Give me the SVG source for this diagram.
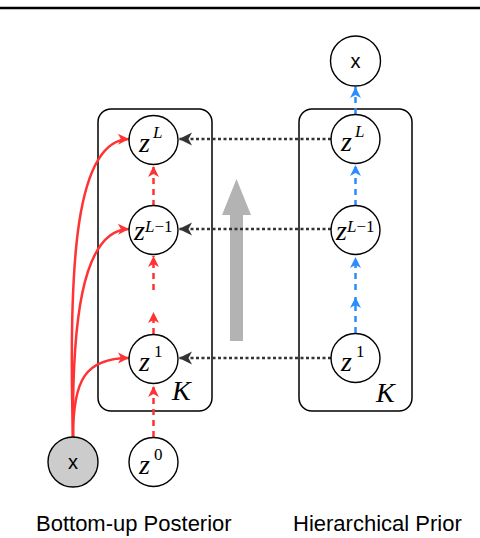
<svg xmlns="http://www.w3.org/2000/svg" width="480" height="538" viewBox="0 0 480 538">
<style>
.box{fill:none;stroke:#000;stroke-width:1.5}
.nd{fill:#fff;stroke:#000;stroke-width:1.4}
.obs{fill:#cccccc;stroke:#000;stroke-width:1.4}
.zi{font-family:"Liberation Serif",serif;font-style:italic;font-size:28px;fill:#000}
.sup{font-family:"Liberation Serif",serif;font-style:italic;font-size:17px;fill:#000}
.supr{font-family:"Liberation Serif",serif;font-size:17px;fill:#000}
.kk{font-family:"Liberation Serif",serif;font-style:italic;font-size:28px;fill:#000}
.sx{font-family:"Liberation Sans",Arial,sans-serif;font-size:20px;fill:#000;text-anchor:middle}
.lbl{font-family:"Liberation Sans",Arial,sans-serif;font-size:22px;fill:#000}
.red{fill:none;stroke:#ff3333;stroke-width:2.5}
.redd{fill:none;stroke:#ff3333;stroke-width:2.5;stroke-dasharray:6 5}
.blue{fill:none;stroke:#2a8cff;stroke-width:2.5;stroke-dasharray:6 5}
.dot{fill:none;stroke:#333;stroke-width:2.5;stroke-dasharray:3 2.5}
</style>
<defs>
<marker id="ar" markerUnits="userSpaceOnUse" markerWidth="14" markerHeight="14" viewBox="-12 -7 14 14" refX="0" refY="0" orient="auto"><path d="M0,0 L-11,-5.5 L-8,0 L-11,5.5 Z" fill="#ff3333"/></marker>
<marker id="ab" markerUnits="userSpaceOnUse" markerWidth="14" markerHeight="14" viewBox="-12 -7 14 14" refX="0" refY="0" orient="auto"><path d="M0,0 L-11,-5.5 L-8,0 L-11,5.5 Z" fill="#2a8cff"/></marker>
<marker id="ak" markerUnits="userSpaceOnUse" markerWidth="16" markerHeight="16" viewBox="-15 -8 16 16" refX="0" refY="0" orient="auto"><path d="M0,0 L-13,-6.5 L-9.5,0 L-13,6.5 Z" fill="#333"/></marker>
</defs>
<line x1="0" y1="8" x2="480" y2="8" stroke="#000" stroke-width="2.3"/>
<g id="plates">
<rect class="box" x="98" y="109" width="114" height="302" rx="13"/>
<rect class="box" x="299" y="109" width="113" height="302" rx="13"/>
<text class="kk" x="172" y="400">K</text>
<text class="kk" x="376" y="402">K</text>
</g>
<g id="bigarrow">
<path d="M230,341 L243,341 L243,215 L251,215 L236.5,179 L222,215 L230,215 Z" fill="#b3b3b3"/>
</g>
<g id="connectors">
<path class="redd" d="M153.5,437 L153.5,386" marker-end="url(#ar)"/>
<path class="redd" d="M153.5,334 L153.5,312" marker-end="url(#ar)"/>
<path class="redd" d="M153.5,290 L153.5,256" marker-end="url(#ar)"/>
<path class="redd" d="M153.5,206 L153.5,166" marker-end="url(#ar)"/>
<path class="red" d="M73,437 C68,260 76,140 129,139" marker-end="url(#ar)"/>
<path class="red" d="M73,437 C72,330 80,230 129,229" marker-end="url(#ar)"/>
<path class="red" d="M73,437 C73,380 85,358 129,358" marker-end="url(#ar)"/>
<path class="blue" d="M355.5,333 L355.5,297" marker-end="url(#ab)"/>
<path class="blue" d="M355.5,290 L355.5,257" marker-end="url(#ab)"/>
<path class="blue" d="M355.5,206 L355.5,165" marker-end="url(#ab)"/>
<path class="blue" d="M355.5,114 L355.5,87" marker-end="url(#ab)"/>
<path class="dot" d="M331,139 L179,139" marker-end="url(#ak)"/>
<path class="dot" d="M331,229 L179,229" marker-end="url(#ak)"/>
<path class="dot" d="M331,358 L179,358" marker-end="url(#ak)"/>
</g>
<g id="x-obs">
<circle class="obs" cx="73" cy="462" r="25"/>
<text class="sx" x="73" y="469">x</text>
</g>
<g id="z0">
<circle class="nd" cx="153.5" cy="462" r="24.5"/>
<text class="zi" x="139" y="474">z</text><text class="supr" x="154" y="460">0</text>
</g>
<g id="q-z1">
<circle class="nd" cx="153.5" cy="359" r="24.5"/>
<text class="zi" x="139" y="371">z</text><text class="supr" x="154" y="357">1</text>
</g>
<g id="q-zL1">
<circle class="nd" cx="153.5" cy="230" r="24.5"/>
<text class="zi" x="134" y="240">z</text><text class="sup" x="145" y="232" font-size="15">L<tspan font-style="normal">−1</tspan></text>
</g>
<g id="q-zL">
<circle class="nd" cx="153.5" cy="140" r="24.5"/>
<text class="zi" x="139" y="152">z</text><text class="sup" x="153" y="138">L</text>
</g>
<g id="p-z1">
<circle class="nd" cx="355.5" cy="358" r="24.5"/>
<text class="zi" x="341" y="371">z</text><text class="supr" x="356" y="357">1</text>
</g>
<g id="p-zL1">
<circle class="nd" cx="355.5" cy="230" r="24.5"/>
<text class="zi" x="336" y="240">z</text><text class="sup" x="347" y="232" font-size="15">L<tspan font-style="normal">−1</tspan></text>
</g>
<g id="p-zL">
<circle class="nd" cx="355.5" cy="139" r="24.5"/>
<text class="zi" x="341" y="151">z</text><text class="sup" x="355" y="137">L</text>
</g>
<g id="p-x">
<circle class="nd" cx="355.5" cy="61" r="25"/>
<text class="sx" x="355.5" y="68">x</text>
</g>
<g id="labels">
<text class="lbl" x="36" y="531">Bottom-up Posterior</text>
<text class="lbl" x="293" y="531">Hierarchical Prior</text>
</g>
</svg>
